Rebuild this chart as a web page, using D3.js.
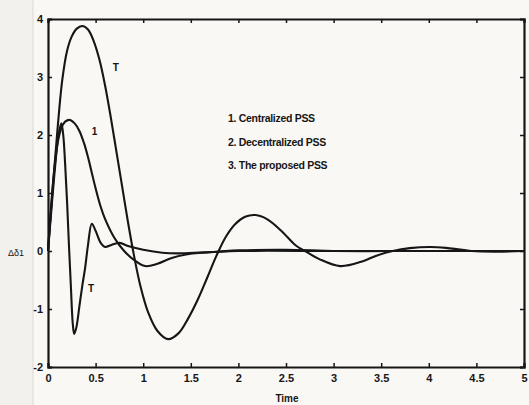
<!DOCTYPE html>
<html>
<head>
<meta charset="utf-8">
<script src="https://cdn.jsdelivr.net/npm/d3@7"></script>
<style>
  body { margin: 0; background: #f9f8f5; }
  svg { display: block; }
</style>
</head>
<body>
<svg id="chart" width="529" height="405"></svg>
<script>
const W = 529, H = 405;

// curve 1 - centralized PSS
const t1 = [0, 0.03, 0.06, 0.1, 0.14, 0.18, 0.23, 0.28, 0.33, 0.38, 0.42, 0.46, 0.5, 0.55, 0.6, 0.7, 0.8, 0.9, 1.02, 1.15, 1.3, 1.45, 1.6, 1.8, 2.0, 2.5, 3, 4, 5];
const v1 = [0, 0.7, 1.3, 1.85, 2.12, 2.23, 2.26, 2.2, 2.07, 1.85, 1.62, 1.35, 1.08, 0.78, 0.55, 0.22, 0.0, -0.15, -0.26, -0.22, -0.12, -0.06, -0.03, -0.01, 0.01, 0.02, 0, 0, 0];

// curve 2 - decentralized PSS (big swing)
const t2 = [0, 0.05, 0.1, 0.15, 0.2, 0.25, 0.3, 0.36, 0.42, 0.48, 0.54, 0.6, 0.66, 0.72, 0.78, 0.84, 0.9, 0.97, 1.05, 1.15, 1.26, 1.37, 1.47, 1.57, 1.67, 1.77, 1.87, 1.97, 2.07, 2.18, 2.3, 2.45, 2.6, 2.7, 2.85, 3.07, 3.3, 3.45, 3.62, 3.8, 4.02, 4.2, 4.45, 4.7, 5];
const v2 = [0, 1.1, 2.1, 2.95, 3.45, 3.7, 3.83, 3.88, 3.82, 3.62, 3.3, 2.85, 2.3, 1.7, 1.1, 0.5, -0.05, -0.6, -1.05, -1.38, -1.52, -1.42, -1.17, -0.85, -0.47, -0.08, 0.25, 0.47, 0.59, 0.62, 0.55, 0.35, 0.1, 0, -0.14, -0.26, -0.18, -0.08, 0, 0.05, 0.07, 0.05, 0, -0.01, 0];

// curve 3 - proposed PSS (fast)
const t3 = [0, 0.04, 0.08, 0.11, 0.14, 0.16, 0.18, 0.2, 0.22, 0.24, 0.26, 0.275, 0.3, 0.33, 0.36, 0.39, 0.42, 0.46, 0.5, 0.55, 0.6, 0.66, 0.75, 0.85, 1.0, 1.2, 1.4, 1.7, 2.0, 3, 4, 5];
const v3 = [0, 0.8, 1.55, 2.0, 2.2, 2.0, 1.5, 0.86, 0.1, -0.6, -1.25, -1.43, -1.3, -0.95, -0.6, -0.29, 0.1, 0.47, 0.35, 0.15, 0.07, 0.1, 0.14, 0.08, 0.02, -0.03, -0.04, -0.02, 0, 0, 0, 0];

const xTicks = [0, 0.5, 1, 1.5, 2, 2.5, 3, 3.5, 4, 4.5, 5];
const xTickLabels = ["0", "0.5", "1", "1.5", "2", "2.5", "3", "3.5", "4", "4.5", "5"];
const yTicks = [-2, -1, 0, 1, 2, 3, 4];
const yTickLabels = ["-2", "-1", "0", "1", "2", "3", "4"];

const legendItems = ["1. Centralized PSS", "2. Decentralized PSS", "3. The proposed PSS"];
// curve labels as printed next to the curves
const curveLabels = [
  { text: "1", t: 0.46, v: 2.0 },
  { text: "T", t: 0.68, v: 3.1 },
  { text: "T", t: 0.42, v: -0.7 }
];

const svg = d3.select("#chart");
const x = d3.scaleLinear().domain([0, 5]).range([48, 524]);
const y = d3.scaleLinear().domain([-2, 4]).range([367, 19]);

const FONT = "'Liberation Sans', Arial, sans-serif";
const INK = "#161616";

// faint scan edge on the left
svg.append("rect").attr("x", 0).attr("y", 0).attr("width", 33).attr("height", H).attr("fill", "#f3f1ee");
svg.append("line").attr("x1", 33).attr("x2", 33).attr("y1", 0).attr("y2", H)
  .attr("stroke", "#ddd9d4").attr("stroke-width", 1);

// axes with inward ticks
const gx = svg.append("g").attr("transform", `translate(0,${y(-2)})`)
  .call(d3.axisBottom(x).tickValues(xTicks).tickSize(-4).tickPadding(7)
    .tickFormat((d, i) => xTickLabels[i]));
const gxTop = svg.append("g").attr("transform", `translate(0,${y(4)})`)
  .call(d3.axisTop(x).tickValues(xTicks).tickSize(-4).tickFormat(""));
const gy = svg.append("g").attr("transform", `translate(${x(0)},0)`)
  .call(d3.axisLeft(y).tickValues(yTicks).tickSize(-4).tickPadding(5)
    .tickFormat((d, i) => yTickLabels[i]));
const gyRight = svg.append("g").attr("transform", `translate(${x(5)},0)`)
  .call(d3.axisRight(y).tickValues(yTicks).tickSize(-4).tickFormat(""));

[gx, gxTop, gy, gyRight].forEach(g => {
  g.select(".domain").attr("stroke", INK).attr("stroke-width", 2.2);
  g.selectAll(".tick line").attr("stroke", INK).attr("stroke-width", 1.5);
  g.selectAll(".tick text").attr("fill", INK).style("font-family", FONT)
    .style("font-size", "11px").style("font-weight", "bold");
});

// curves
const line = d3.line().x(d => x(d[0])).y(d => y(d[1])).curve(d3.curveCatmullRom.alpha(0.5));
const series = [d3.zip(t1, v1), d3.zip(t2, v2), d3.zip(t3, v3)];
svg.selectAll("path.curve")
  .data(series)
  .enter()
  .append("path")
  .attr("class", "curve")
  .attr("d", line)
  .attr("fill", "none")
  .attr("stroke", INK)
  .attr("stroke-width", 2.1)
  .attr("stroke-linejoin", "round");

// curve labels
svg.selectAll("text.clabel")
  .data(curveLabels)
  .enter()
  .append("text")
  .attr("class", "clabel")
  .attr("x", d => x(d.t))
  .attr("y", d => y(d.v))
  .attr("fill", INK)
  .style("font-family", FONT)
  .style("font-size", "10px")
  .style("font-weight", "bold")
  .text(d => d.text);

// legend text
svg.selectAll("text.legend")
  .data(legendItems)
  .enter()
  .append("text")
  .attr("class", "legend")
  .attr("x", 228)
  .attr("y", (d, i) => 122 + i * 23.5)
  .attr("fill", INK)
  .style("font-family", FONT)
  .style("font-size", "10.5px")
  .style("font-weight", "bold")
  .style("letter-spacing", "-0.3px")
  .text(d => d);

// axis titles
svg.append("text")
  .attr("x", 287).attr("y", 402)
  .attr("text-anchor", "middle")
  .attr("fill", INK)
  .style("font-family", FONT).style("font-size", "10px").style("font-weight", "bold")
  .text("Time");

svg.append("text")
  .attr("x", 8).attr("y", 256)
  .attr("fill", INK)
  .style("font-family", FONT).style("font-size", "9px")
  .text("Δδ1");
</script>
</body>
</html>
